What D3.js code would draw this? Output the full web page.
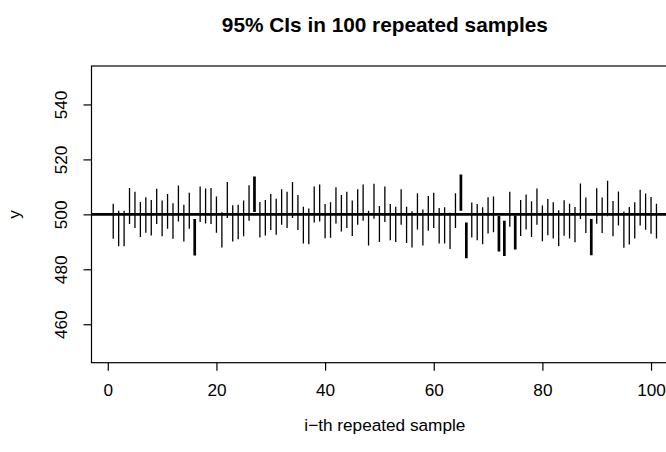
<!DOCTYPE html>
<html>
<head>
<meta charset="utf-8">
<script src="https://cdn.jsdelivr.net/npm/d3@7"></script>
<style>
  html, body { margin: 0; padding: 0; background: #fff; }
  svg { display: block; font-family: "Liberation Sans", Arial, Helvetica, sans-serif; }
</style>
</head>
<body>
<svg id="chart" width="666" height="452"></svg>
<script>
// ---- data ----
const upper = [503.9,501.3,501.3,509.6,508.2,504.5,506.2,505.2,509.3,505.0,
               507.4,504.0,510.5,503.5,507.9,498.3,510.1,509.4,509.6,506.5,
               500.8,511.8,503.3,503.5,505.0,510.6,513.8,504.5,505.2,507.4,
               505.7,509.1,508.2,511.8,507.0,502.8,502.1,510.1,510.9,503.8,
               504.4,509.9,507.0,508.2,505.0,509.1,510.9,501.3,511.1,503.0,
               510.1,503.8,502.8,509.1,502.8,501.1,507.7,501.8,506.7,507.9,
               502.3,502.6,500.6,507.7,514.5,497.0,504.3,503.8,502.6,506.2,
               506.5,499.4,497.7,508.2,499.6,505.2,507.2,504.8,509.4,503.2,
               505.6,504.4,501.5,505.1,503.9,502.7,511.2,506.1,498.3,509.5,
               506.1,512.2,504.9,508.3,501.0,502.7,504.4,509.0,507.6,506.3,
               503.9];
const lower = [491.1,488.4,488.4,496.5,495.0,491.8,493.3,492.3,496.5,492.0,
               494.8,491.1,497.4,490.1,494.8,485.0,497.2,496.7,496.5,493.3,
               487.9,498.7,490.1,490.9,492.0,497.7,500.9,491.6,492.3,494.3,
               492.6,496.2,495.0,498.7,494.3,489.4,489.1,497.0,497.4,491.3,
               491.5,496.7,493.8,495.0,492.1,496.2,497.7,488.7,498.4,489.9,
               497.2,490.6,489.9,496.2,489.6,487.9,494.5,488.7,494.0,495.0,
               489.4,489.4,487.4,495.0,501.3,484.0,491.6,490.6,489.1,493.0,
               493.5,486.5,484.8,495.5,487.2,492.1,494.5,491.8,496.2,490.2,
               492.4,491.2,488.5,492.2,491.2,489.8,498.3,493.2,485.1,496.6,
               493.2,499.3,492.0,495.9,487.8,489.0,491.2,495.9,494.4,492.9,
               491.2];
const trueMean = 500;
const xTicks = [0, 20, 40, 60, 80, 100];
const yTicks = [460, 480, 500, 520, 540];
const titleText = "95% CIs in 100 repeated samples";
const xLabel = "i\u2212th repeated sample";
const yLabel = "y";

// ---- layout ----
const W = 666, H = 452;
const plot = { left: 91.5, right: 678.2, top: 66, bottom: 362.7 };
const fs = 17.2;
const tickLen = 8;

const svg = d3.select("#chart");

const x = d3.scaleLinear().domain([-3, 105]).range([plot.left, plot.right]);
const y = d3.scaleLinear().domain([446, 554]).range([plot.bottom, plot.top]);

const intervals = upper.map((u, i) => ({ idx: i + 1, hi: u, lo: lower[i] }));

// clip for plot region
svg.append("defs").append("clipPath").attr("id", "clip")
  .append("rect")
  .attr("x", plot.left).attr("y", plot.top)
  .attr("width", plot.right - plot.left).attr("height", plot.bottom - plot.top);

const g = svg.append("g").attr("clip-path", "url(#clip)");

// intervals
g.selectAll("line.ci")
  .data(intervals)
  .enter().append("line")
  .attr("class", "ci")
  .attr("x1", d => x(d.idx)).attr("x2", d => x(d.idx))
  .attr("y1", d => y(d.lo)).attr("y2", d => y(d.hi))
  .attr("stroke", "#000")
  .attr("stroke-width", d => (d.lo > trueMean || d.hi < trueMean) ? 2.7 : 1.3);

// reference line
g.append("line")
  .attr("x1", plot.left).attr("x2", plot.right)
  .attr("y1", y(trueMean)).attr("y2", y(trueMean))
  .attr("stroke", "#000").attr("stroke-width", 2.6);

// box
svg.append("rect")
  .attr("x", plot.left).attr("y", plot.top)
  .attr("width", plot.right - plot.left).attr("height", plot.bottom - plot.top)
  .attr("fill", "none").attr("stroke", "#000").attr("stroke-width", 1.2);

// x axis
const xAxis = svg.append("g")
  .attr("transform", `translate(0,${plot.bottom})`)
  .call(d3.axisBottom(x).tickValues(xTicks).tickSize(tickLen).tickSizeOuter(0).tickFormat(d3.format("d")));
xAxis.select(".domain").remove();
xAxis.selectAll(".tick line").attr("stroke", "#000").attr("stroke-width", 1.2);
xAxis.selectAll("text")
  .attr("dy", null).attr("y", 396.5 - plot.bottom)
  .attr("font-size", fs).attr("font-family", null).attr("fill", "#000");
xAxis.attr("font-family", null);

// y axis
const yAxis = svg.append("g")
  .attr("transform", `translate(${plot.left},0)`)
  .call(d3.axisLeft(y).tickValues(yTicks).tickSize(tickLen).tickSizeOuter(0).tickFormat(d3.format("d")));
yAxis.select(".domain").remove();
yAxis.selectAll(".tick line").attr("stroke", "#000").attr("stroke-width", 1.2);
yAxis.selectAll("text")
  .attr("dy", null).attr("x", null).attr("y", null)
  .attr("transform", `translate(${67 - plot.left},0) rotate(-90)`)
  .attr("text-anchor", "middle")
  .attr("font-size", fs).attr("font-family", null).attr("fill", "#000");
yAxis.attr("font-family", null);

const cx = (plot.left + plot.right) / 2;
const cy = (plot.top + plot.bottom) / 2;

// title
svg.append("text")
  .attr("x", cx).attr("y", 32)
  .attr("text-anchor", "middle")
  .attr("font-weight", "bold").attr("font-size", 20.8)
  .text(titleText);

// x label
svg.append("text")
  .attr("x", cx).attr("y", 431)
  .attr("text-anchor", "middle")
  .attr("font-size", fs)
  .text(xLabel);

// y label
svg.append("text")
  .attr("transform", `translate(19.5,${cy}) rotate(-90)`)
  .attr("text-anchor", "middle")
  .attr("font-size", fs)
  .text(yLabel);
</script>
</body>
</html>
